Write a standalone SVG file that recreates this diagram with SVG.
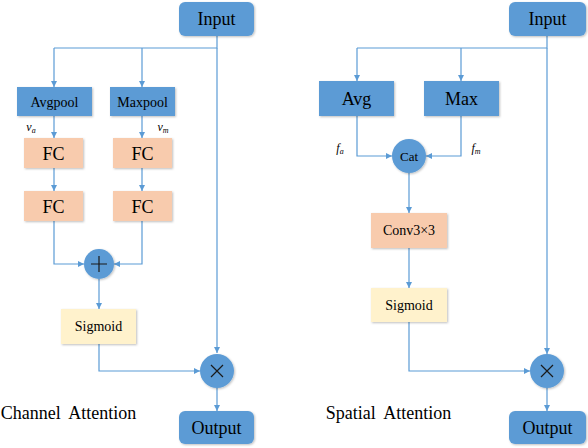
<svg xmlns="http://www.w3.org/2000/svg" width="588" height="448" viewBox="0 0 588 448">
<defs>
<marker id="ah" viewBox="0 0 6 6" refX="6" refY="3" markerWidth="6" markerHeight="6" markerUnits="userSpaceOnUse" orient="auto">
<path d="M0,0 L6,3 L0,6 Z" fill="#5B9BD5"/>
</marker>
<filter id="sh" x="-10%" y="-10%" width="130%" height="130%">
<feDropShadow dx="1" dy="1" stdDeviation="0.8" flood-color="#000" flood-opacity="0.25"/>
</filter>
</defs>
<style>
text{fill:#000;text-anchor:middle;dominant-baseline:central}
.blue{fill:#5B9BD5;filter:url(#sh)}
.sal{fill:#F8CBAD;filter:url(#sh)}
.yel{fill:#FFF2CC;filter:url(#sh)}
.ln{fill:none;stroke:#5B9BD5;stroke-width:1.2}
.ar{marker-end:url(#ah)}
.sym{stroke:#1a1a1a;stroke-width:1.2;fill:none}
.lbl{font-style:italic;font-size:12px}
</style>
<rect width="588" height="448" fill="#fff"/>
<g id="connectors">
<path class="ln" d="M217,36 V48 H54"/>
<path class="ln ar" d="M54,48 V87"/>
<path class="ln ar" d="M142,48 V87"/>
<path class="ln ar" d="M217,48 V353"/>
<path class="ln ar" d="M54,116 V138"/>
<path class="ln ar" d="M142,116 V138"/>
<path class="ln ar" d="M54,168 V191"/>
<path class="ln ar" d="M142,168 V191"/>
<path class="ln ar" d="M54,221 V264 H84"/>
<path class="ln ar" d="M142,221 V264 H114"/>
<path class="ln ar" d="M99,279 V309"/>
<path class="ln ar" d="M99,344 V371 H200"/>
<path class="ln ar" d="M217,388 V411"/>
<path class="ln" d="M547,36 V48 H357"/>
<path class="ln ar" d="M357,48 V81"/>
<path class="ln ar" d="M461,48 V81"/>
<path class="ln ar" d="M547,48 V354"/>
<path class="ln ar" d="M357,116 V156 H392"/>
<path class="ln ar" d="M461,116 V156 H426"/>
<path class="ln ar" d="M409,173 V213"/>
<path class="ln ar" d="M409,248 V288"/>
<path class="ln ar" d="M409,322 V371 H530"/>
<path class="ln ar" d="M547,388 V411"/>
</g>
<g font-family="Liberation Serif">
<g id="ca-input"><rect class="blue" x="179" y="2" width="75" height="34" rx="6"/><text x="216.5" y="19" font-size="18" font-family="Liberation Serif">Input</text></g>
<g id="ca-avgpool"><rect class="blue" x="17" y="87" width="75" height="29"/><text x="54.5" y="102" font-size="14" font-family="Liberation Serif">Avgpool</text></g>
<g id="ca-maxpool"><rect class="blue" x="110" y="87" width="65" height="29"/><text x="142.5" y="102" font-size="14" font-family="Liberation Serif">Maxpool</text></g>
<text class="lbl" x="31" y="127" font-family="Liberation Serif">v<tspan font-size="8" dy="3">a</tspan></text>
<text class="lbl" x="163" y="127" font-family="Liberation Serif">v<tspan font-size="8" dy="3">m</tspan></text>
<g id="ca-fc1a"><rect class="sal" x="24" y="138" width="59" height="30"/><text x="53.5" y="153.5" font-size="18" font-family="Liberation Serif">FC</text></g>
<g id="ca-fc1b"><rect class="sal" x="113" y="138" width="59" height="30"/><text x="142.5" y="153.5" font-size="18" font-family="Liberation Serif">FC</text></g>
<g id="ca-fc2a"><rect class="sal" x="24" y="191" width="59" height="30"/><text x="53.5" y="206.5" font-size="18" font-family="Liberation Serif">FC</text></g>
<g id="ca-fc2b"><rect class="sal" x="113" y="191" width="59" height="30"/><text x="142.5" y="206.5" font-size="18" font-family="Liberation Serif">FC</text></g>
<g id="ca-add"><circle class="blue" cx="99" cy="264" r="15"/><path class="sym" d="M91,264 H107 M99,256 V272"/></g>
<g id="ca-sigmoid"><rect class="yel" x="61" y="309" width="75" height="35"/><text x="98.5" y="326.5" font-size="14" font-family="Liberation Serif">Sigmoid</text></g>
<g id="ca-mul"><circle class="blue" cx="217" cy="371" r="17"/><path class="sym" d="M211,365 L223,377 M223,365 L211,377" stroke-width="0.9"/></g>
<g id="ca-output"><rect class="blue" x="179" y="411" width="75" height="33" rx="6"/><text x="216.5" y="427.5" font-size="18" font-family="Liberation Serif">Output</text></g>
<text x="68.5" y="413" font-size="18" word-spacing="4" font-family="Liberation Serif">Channel Attention</text>
<g id="sa-input"><rect class="blue" x="509" y="2" width="77" height="34" rx="6"/><text x="547.5" y="19" font-size="18" font-family="Liberation Serif">Input</text></g>
<g id="sa-avg"><rect class="blue" x="319" y="81" width="75" height="35"/><text x="356.5" y="98.5" font-size="18" font-family="Liberation Serif">Avg</text></g>
<g id="sa-max"><rect class="blue" x="424" y="81" width="75" height="35"/><text x="461.5" y="98.5" font-size="18" font-family="Liberation Serif">Max</text></g>
<text class="lbl" x="340" y="148" font-family="Liberation Serif">f<tspan font-size="8" dy="3">a</tspan></text>
<text class="lbl" x="476" y="148" font-family="Liberation Serif">f<tspan font-size="8" dy="3">m</tspan></text>
<g id="sa-cat"><circle class="blue" cx="409" cy="156" r="17"/><text x="409" y="156" font-size="13" font-family="Liberation Serif">Cat</text></g>
<g id="sa-conv"><rect class="sal" x="371" y="213" width="76" height="35"/><text x="409" y="230.5" font-size="14" font-family="Liberation Serif">Conv3×3</text></g>
<g id="sa-sigmoid"><rect class="yel" x="371" y="288" width="76" height="34"/><text x="409" y="305" font-size="14" font-family="Liberation Serif">Sigmoid</text></g>
<g id="sa-mul"><circle class="blue" cx="547" cy="371" r="17"/><path class="sym" d="M541,365 L553,377 M553,365 L541,377" stroke-width="0.9"/></g>
<g id="sa-output"><rect class="blue" x="509" y="411" width="77" height="33" rx="6"/><text x="547.5" y="427.5" font-size="18" font-family="Liberation Serif">Output</text></g>
<text x="388.5" y="413" font-size="18" word-spacing="4" font-family="Liberation Serif">Spatial Attention</text>
</g>
</svg>
